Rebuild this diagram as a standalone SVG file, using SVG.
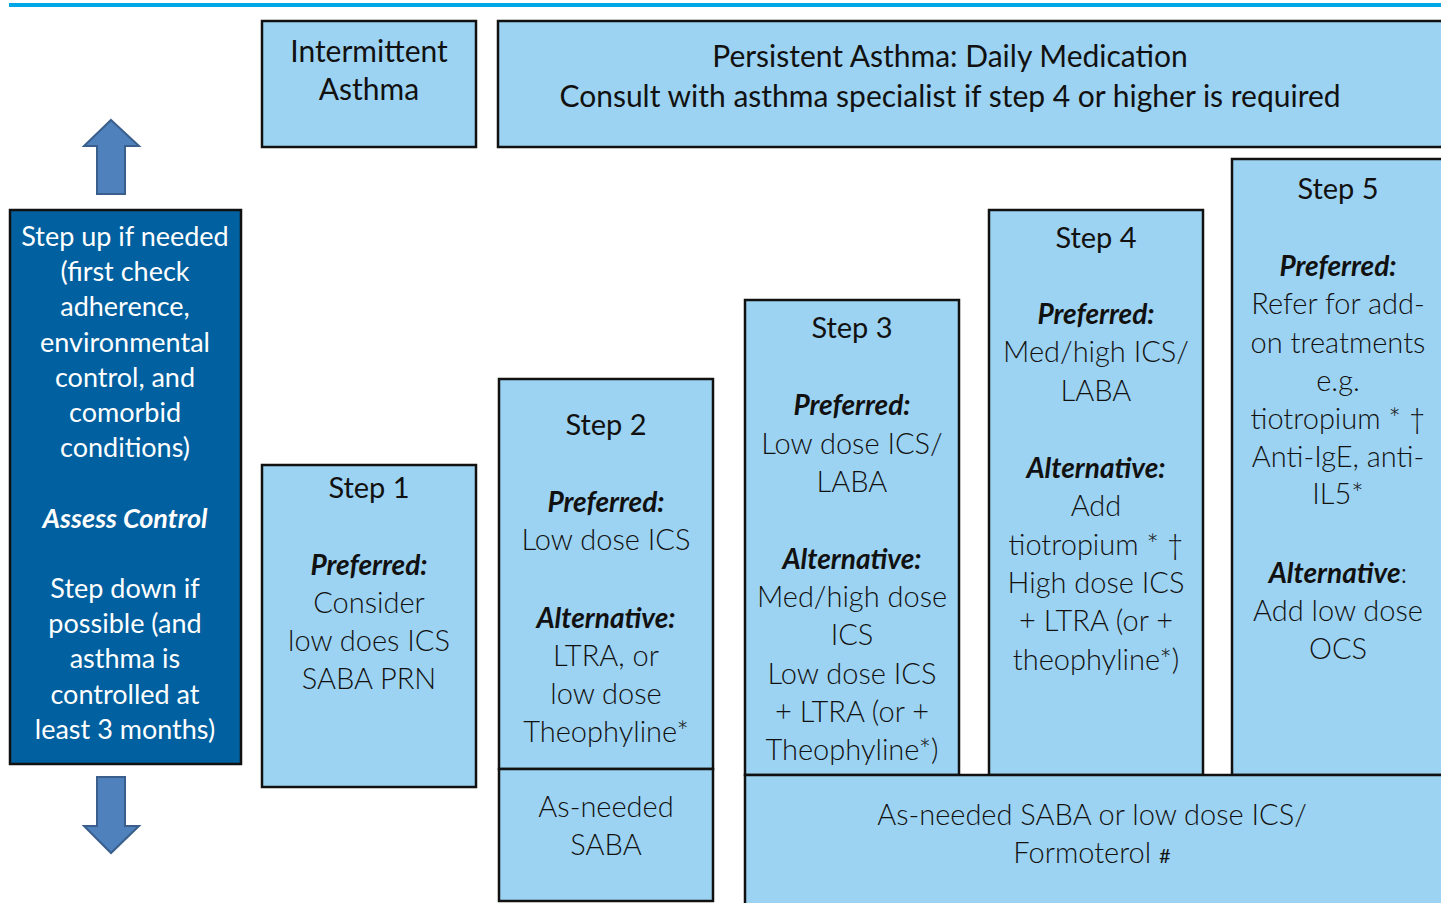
<svg xmlns="http://www.w3.org/2000/svg" width="1441" height="903" viewBox="0 0 1441 903">
<style>
.box{fill:#9dd3f2;stroke:#111;stroke-width:2.5}
.dark{fill:#0060a0;stroke:#111;stroke-width:2.5}
.arrow{fill:#4f81bd;stroke:#3a5f8c;stroke-width:2}
text{font-family:Lato,"Noto Sans","Liberation Sans",sans-serif;text-anchor:middle;fill:#111}
.b{font-size:29px;font-weight:300}
.h{font-size:29px;font-weight:400}
.p{font-size:28px;font-weight:700;font-style:italic}
.w{font-size:27px;font-weight:400;fill:#fff}
.wi{font-size:27px;font-weight:700;font-style:italic;fill:#fff}
.t{font-size:30px;font-weight:400}
</style>
<rect x="9" y="3" width="1432" height="4" fill="#00a6e6"/>
<g id="connectors">
<path class="arrow" d="M111,120 L139,146 L125,146 L125,194 L97,194 L97,146 L84,146 Z"/>
<path class="arrow" d="M97,777 L125,777 L125,826 L139,826 L111,853 L84,826 L97,826 Z"/>
</g>
<g id="intermittent">
<rect class="box" x="262" y="21" width="214" height="126"/>
<text class="t" x="369" y="62">Intermittent</text>
<text class="t" x="369" y="100">Asthma</text>
</g>
<g id="persistent">
<rect class="box" x="498" y="21" width="950" height="126"/>
<text class="t" x="950" y="67">Persistent Asthma: Daily Medication</text>
<text class="t" x="950" y="107">Consult with asthma specialist if step 4 or higher is required</text>
</g>
<g id="control">
<rect class="dark" x="10" y="210" width="231" height="554"/>
<text class="w" x="125" y="246">Step up if needed</text>
<text class="w" x="125" y="281">(first check</text>
<text class="w" x="125" y="316">adherence,</text>
<text class="w" x="125" y="352">environmental</text>
<text class="w" x="125" y="387">control, and</text>
<text class="w" x="125" y="422">comorbid</text>
<text class="w" x="125" y="457">conditions)</text>
<text class="wi" x="125" y="528">Assess Control</text>
<text class="w" x="125" y="598">Step down if</text>
<text class="w" x="125" y="633">possible (and</text>
<text class="w" x="125" y="668">asthma is</text>
<text class="w" x="125" y="704">controlled at</text>
<text class="w" x="125" y="739">least 3 months)</text>
</g>
<g id="step1">
<rect class="box" x="262" y="465" width="214" height="322"/>
<text class="h" x="369" y="498">Step 1</text>
<text class="p" x="369" y="575">Preferred:</text>
<text class="b" x="369" y="613">Consider</text>
<text class="b" x="369" y="651">low does ICS</text>
<text class="b" x="369" y="689">SABA PRN</text>
</g>
<g id="step2">
<rect class="box" x="499" y="379" width="214" height="390"/>
<text class="h" x="606" y="435">Step 2</text>
<text class="p" x="606" y="512">Preferred:</text>
<text class="b" x="606" y="550">Low dose ICS</text>
<text class="p" x="606" y="628">Alternative:</text>
<text class="b" x="606" y="666">LTRA, or</text>
<text class="b" x="606" y="704">low dose</text>
<text class="b" x="606" y="742">Theophyline*</text>
</g>
<g id="saba">
<rect class="box" x="499" y="769" width="214" height="132"/>
<text class="b" x="606" y="817">As-needed</text>
<text class="b" x="606" y="855">SABA</text>
</g>
<g id="step3">
<rect class="box" x="745" y="300" width="214" height="475"/>
<text class="h" x="852" y="338">Step 3</text>
<text class="p" x="852" y="415">Preferred:</text>
<text class="b" x="852" y="454">Low dose ICS/</text>
<text class="b" x="852" y="492">LABA</text>
<text class="p" x="852" y="569">Alternative:</text>
<text class="b" x="852" y="607">Med/high dose</text>
<text class="b" x="852" y="645">ICS</text>
<text class="b" x="852" y="684">Low dose ICS</text>
<text class="b" x="852" y="722">+ LTRA (or +</text>
<text class="b" x="852" y="760">Theophyline*)</text>
</g>
<g id="step4">
<rect class="box" x="989" y="210" width="214" height="565"/>
<text class="h" x="1096" y="248">Step 4</text>
<text class="p" x="1096" y="324">Preferred:</text>
<text class="b" x="1096" y="362">Med/high ICS/</text>
<text class="b" x="1096" y="401">LABA</text>
<text class="p" x="1096" y="478">Alternative:</text>
<text class="b" x="1096" y="516">Add</text>
<text class="b" x="1096" y="555">tiotropium * †</text>
<text class="b" x="1096" y="593">High dose ICS</text>
<text class="b" x="1096" y="631">+ LTRA (or +</text>
<text class="b" x="1096" y="670">theophyline*)</text>
</g>
<g id="step5">
<rect class="box" x="1232" y="159" width="220" height="616"/>
<text class="h" x="1338" y="199">Step 5</text>
<text class="p" x="1338" y="276">Preferred:</text>
<text class="b" x="1338" y="314">Refer for add-</text>
<text class="b" x="1338" y="353">on treatments</text>
<text class="b" x="1338" y="391">e.g.</text>
<text class="b" x="1338" y="429">tiotropium * †</text>
<text class="b" x="1338" y="467">Anti-IgE, anti-</text>
<text class="b" x="1338" y="504">IL5*</text>
<text x="1338" y="583" style="font-size:28px"><tspan font-weight="700" font-style="italic">Alternative</tspan><tspan font-weight="300">:</tspan></text>
<text class="b" x="1338" y="621">Add low dose</text>
<text class="b" x="1338" y="659">OCS</text>
</g>
<g id="reliever">
<rect class="box" x="745" y="775" width="710" height="140"/>
<text class="b" x="1092" y="825">As-needed SABA or low dose ICS/</text>
<text class="b" x="1092" y="863">Formoterol <tspan font-size="20px" font-weight="400">#</tspan></text>
</g>
</svg>
